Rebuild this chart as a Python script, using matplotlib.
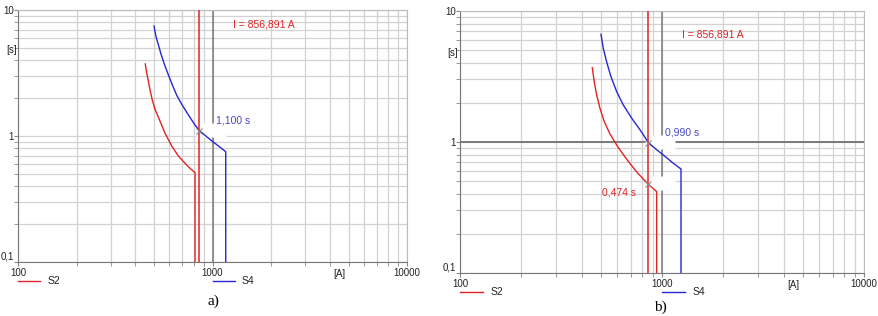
import numpy as np
import matplotlib
matplotlib.use('Agg')
from matplotlib import pyplot as plt
from matplotlib.lines import Line2D
from matplotlib.transforms import offset_copy

plt.rcParams['font.family'] = ['Liberation Sans', 'DejaVu Sans']

# cursor current (A) shown in both panels
cursor_current = 856.891

# panel a) tripping curves, current [A] and time [s]
a_s2_current = [451, 459, 468, 477, 490, 506, 533, 570, 617, 667, 722, 766, 813, 813]
a_s2_time = [3.73, 3.14, 2.72, 2.32, 1.93, 1.63, 1.35, 1.05, 0.833, 0.694, 0.607, 0.554, 0.512, 0.1]
a_s4_current = [500, 512, 527, 542, 563, 593, 624, 655, 695, 751, 813, 857, 934, 1009, 1093, 1169, 1169]
a_s4_time = [7.46, 6.14, 5.28, 4.53, 3.78, 3.05, 2.50, 2.10, 1.78, 1.47, 1.22, 1.10, 0.985, 0.895, 0.815, 0.75, 0.1]
a_marks = [(1.100, '1,100 s', 'S4')]

# panel b)
b_s2_current = [452, 462, 475, 493, 518, 553, 604, 668, 750, 857, 941, 941]
b_s2_time = [3.69, 2.89, 2.28, 1.81, 1.43, 1.15, 0.92, 0.74, 0.59, 0.474, 0.418, 0.1]
b_s4_current = [499, 512, 532, 559, 597, 643, 708, 778, 857, 923, 1015, 1138, 1242, 1242]
b_s4_time = [6.64, 5.19, 4.10, 3.15, 2.42, 1.92, 1.52, 1.24, 0.990, 0.895, 0.796, 0.688, 0.622, 0.1]
b_marks = [(0.990, '0,990 s', 'S4'), (0.474, '0,474 s', 'S2')]

x_ticks = [100, 1000, 10000]
x_ticklabels = ['100', '1000', '10000']
y_ticks = [0.1, 1, 10]
y_ticklabels = ['0,1', '1', '10']

RED = '#e42222'
BLUE = '#2626d6'
FS = 7
fig = plt.figure(figsize=(8.79, 3.16), dpi=100)


def draw_panel(rect, s2_i, s2_t, s4_i, s4_t, marks, caption, cap_xy, hline, cur_dy):
    ax = fig.add_axes(rect)
    ax.set_xscale('log')
    ax.set_yscale('log')
    ax.set_xlim(100, 10000)
    ax.set_ylim(0.1, 10)
    ax.grid(True, which='both', color='#d2d2d2', lw=0.9, zorder=0)
    ax.set_axisbelow(True)
    ax.axvline(1000, color='#7a7a7a', lw=1.1, zorder=1)
    if hline:
        ax.axhline(1, color='#7a7a7a', lw=1.4, zorder=1)
    for s in ['left', 'bottom']:
        ax.spines[s].set_color('#777777')
    for s in ['top', 'right']:
        ax.spines[s].set_color('#bbbbbb')
    ax.tick_params(which='both', direction='out', length=3, color='#888888',
                   labelsize=FS, labelcolor='#222222')
    ax.tick_params(axis='y', pad=0)
    ax.tick_params(axis='x', pad=1)
    ax.set_xticks(x_ticks)
    ax.set_xticklabels(x_ticklabels)
    ax.set_yticks(y_ticks)
    ax.set_yticklabels(y_ticklabels)
    ax.xaxis.set_minor_formatter(plt.NullFormatter())
    ax.yaxis.set_minor_formatter(plt.NullFormatter())
    ax.get_yticklabels()[0].set_va('bottom')

    ax.plot(s2_i, s2_t, color=RED, lw=1.0, zorder=4)
    ax.plot(s4_i, s4_t, color=BLUE, lw=1.0, zorder=4)
    ax.axvline(cursor_current, color=RED, lw=1.1, zorder=5)

    rect_marker = [(-1, -0.45), (1, -0.45), (1, 0.45), (-1, 0.45)]
    for t, label, which in marks:
        tr = offset_copy(ax.transData, fig=fig, x=12, y=1, units='dots')
        ax.plot([cursor_current], [t], marker=rect_marker, ms=22, mfc='white',
                mec='none', transform=tr, zorder=2)
        ax.plot([cursor_current], [t], marker='x', ms=4, mew=0.8,
                color='#8a8a8a', zorder=6)
        if which == 'S4':
            ax.annotate(label, (cursor_current, t), xytext=(17, 10),
                        textcoords='offset pixels', color='#4646c8',
                        fontsize=FS + 0.5, ha='left', va='center')
        else:
            ax.annotate(label, (cursor_current, t), xytext=(-12, -8),
                        textcoords='offset pixels', color=RED,
                        fontsize=FS + 0.5, ha='right', va='center')

    ax.annotate('I = 856,891 A', (cursor_current, 10), xytext=(34, cur_dy),
                textcoords='offset pixels', color=RED, fontsize=FS + 0.5,
                ha='left', va='center')
    ax.text(-0.004, 0.84, '[s]', transform=ax.transAxes, fontsize=FS,
            ha='right', va='center', color='#222222')
    ax.text(0.826, -0.027, '[A]', transform=ax.transAxes, fontsize=FS,
            ha='center', va='top', color='#222222')

    # legend below the plot
    ly = -0.074
    ax.add_line(Line2D([0.0, 0.057], [ly, ly], transform=ax.transAxes,
                       color=RED, lw=1.0, clip_on=False))
    ax.text(0.075, ly, 'S2', transform=ax.transAxes, fontsize=FS + 0.5,
            ha='left', va='center', color='#222222')
    ax.add_line(Line2D([0.5, 0.557], [ly, ly], transform=ax.transAxes,
                       color=BLUE, lw=1.0, clip_on=False))
    ax.text(0.575, ly, 'S4', transform=ax.transAxes, fontsize=FS + 0.5,
            ha='left', va='center', color='#222222')

    fig.text(cap_xy[0], cap_xy[1], caption, fontsize=11,
             family='Liberation Serif', ha='center', va='center')
    return ax


draw_panel([0.0205, 0.1709, 0.4426, 0.7975], a_s2_current, a_s2_time,
           a_s4_current, a_s4_time, a_marks, 'a)', (213 / 879, 1 - 301 / 316),
           False, -15)
draw_panel([0.5233, 0.1361, 0.4596, 0.8291], b_s2_current, b_s2_time,
           b_s4_current, b_s4_time, b_marks, 'b)', (660 / 879, 1 - 307 / 316),
           True, -24)

fig.savefig('out.png', dpi=100)
